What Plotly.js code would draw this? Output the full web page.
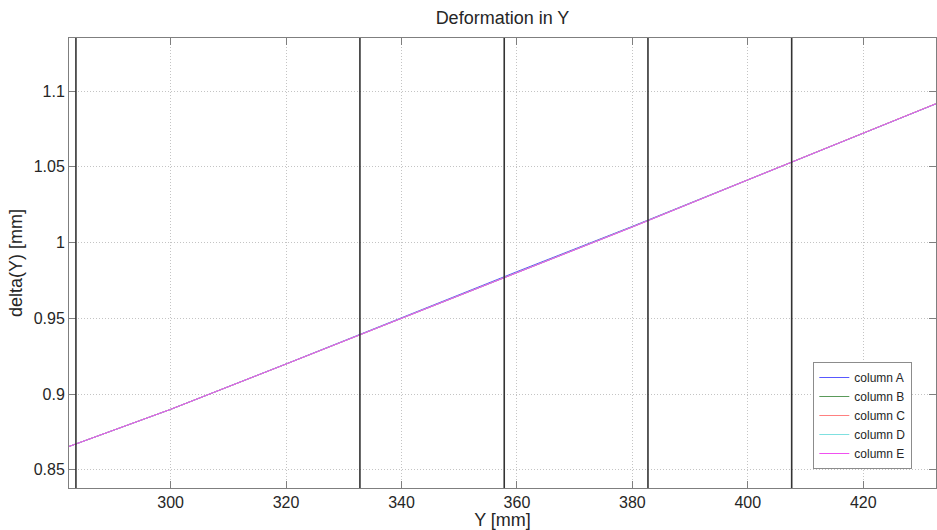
<!DOCTYPE html>
<html>
<head>
<meta charset="utf-8">
<script src="https://cdn.plot.ly/plotly-3.0.1.min.js"></script>
<style>html,body{margin:0;padding:0;background:#fff;}#chart{width:937px;height:530px;}</style>
</head>
<body>
<div id="chart"></div>
<script>
// Data
const seriesNames = ["column A", "column B", "column C", "column D", "column E"];
const xValues = [282.4, 300, 320, 340, 360, 380, 400, 420, 432.6];
const colA = [0.8654, 0.8899, 0.9199, 0.9504, 0.9808, 1.0107, 1.0413, 1.0722, 1.0916];
const colB = [0.8654, 0.8899, 0.9198, 0.9501, 0.9802, 1.0104, 1.0413, 1.0722, 1.0916];
const colC = [0.8654, 0.8899, 0.9198, 0.9500, 0.9800, 1.0103, 1.0414, 1.0723, 1.0917];
const colD = [0.8654, 0.8899, 0.9198, 0.9500, 0.9800, 1.0103, 1.0413, 1.0722, 1.0916];
const colE = [0.8654, 0.8899, 0.9198, 0.9499, 0.9799, 1.0102, 1.0413, 1.0722, 1.0916];
const markerLinesX = [283.6, 332.8, 357.8, 382.7, 407.6];
const xTicks = [300, 320, 340, 360, 380, 400, 420];
const yTicks = [0.85, 0.9, 0.95, 1, 1.05, 1.1];
const xRange = [282.4, 432.6];
const yRange = [0.838, 1.135];

const colors = ["#5858ff", "#5a9a5a", "#ff8080", "#7fe0e0", "#f050f0"];
const allY = [colA, colB, colC, colD, colE];

const traces = allY.map((ys, i) => ({
  x: xValues, y: ys, type: "scatter", mode: "lines",
  name: seriesNames[i],
  line: {color: colors[i], width: 1}
}));

const shapes = markerLinesX.map(v => ({
  type: "line", xref: "x", yref: "paper", x0: v, x1: v, y0: 0, y1: 1,
  line: {color: "#333333", width: 1.6}
}));

const FONT = "Liberation Sans, Arial, sans-serif";
const axisCommon = {
  showline: true, linecolor: "#7f7f7f", linewidth: 1, mirror: "ticks",
  ticks: "inside", ticklen: 7, tickcolor: "#7f7f7f", tickwidth: 1,
  showgrid: true, gridcolor: "#c4c4c4", griddash: "1px,2px", gridwidth: 1,
  zeroline: false, tickfont: {family: FONT, size: 16, color: "#262626"}
};

const layout = {
  width: 937, height: 530,
  margin: {l: 69, r: 1, t: 38, b: 42, pad: 0},
  paper_bgcolor: "#ffffff", plot_bgcolor: "#ffffff",
  font: {family: FONT, color: "#262626"},
  title: {text: "Deformation in Y", xref: "paper", x: 0.5, xanchor: "center", y: 0.966, yanchor: "middle",
          font: {size: 18, color: "#262626"}},
  xaxis: Object.assign({}, axisCommon, {
    range: xRange, tickvals: xTicks, ticktext: xTicks.map(String),
    title: {text: "Y [mm]", font: {size: 18, color: "#262626"}, standoff: 5}
  }),
  yaxis: Object.assign({}, axisCommon, {
    range: yRange, tickvals: yTicks, ticktext: yTicks.map(String),
    title: {text: "delta(Y) [mm]", font: {size: 18, color: "#262626"}, standoff: 6}
  }),
  shapes: shapes,
  showlegend: true,
  legend: {
    x: 0.8585, y: 0.28, xanchor: "left", yanchor: "top",
    bgcolor: "#ffffff", bordercolor: "#8c8c8c", borderwidth: 1,
    font: {family: FONT, size: 12, color: "#262626"}, itemwidth: 30, tracegroupgap: 0
  }
};

Plotly.newPlot("chart", traces, layout, {displayModeBar: false, staticPlot: true});
</script>
</body>
</html>
